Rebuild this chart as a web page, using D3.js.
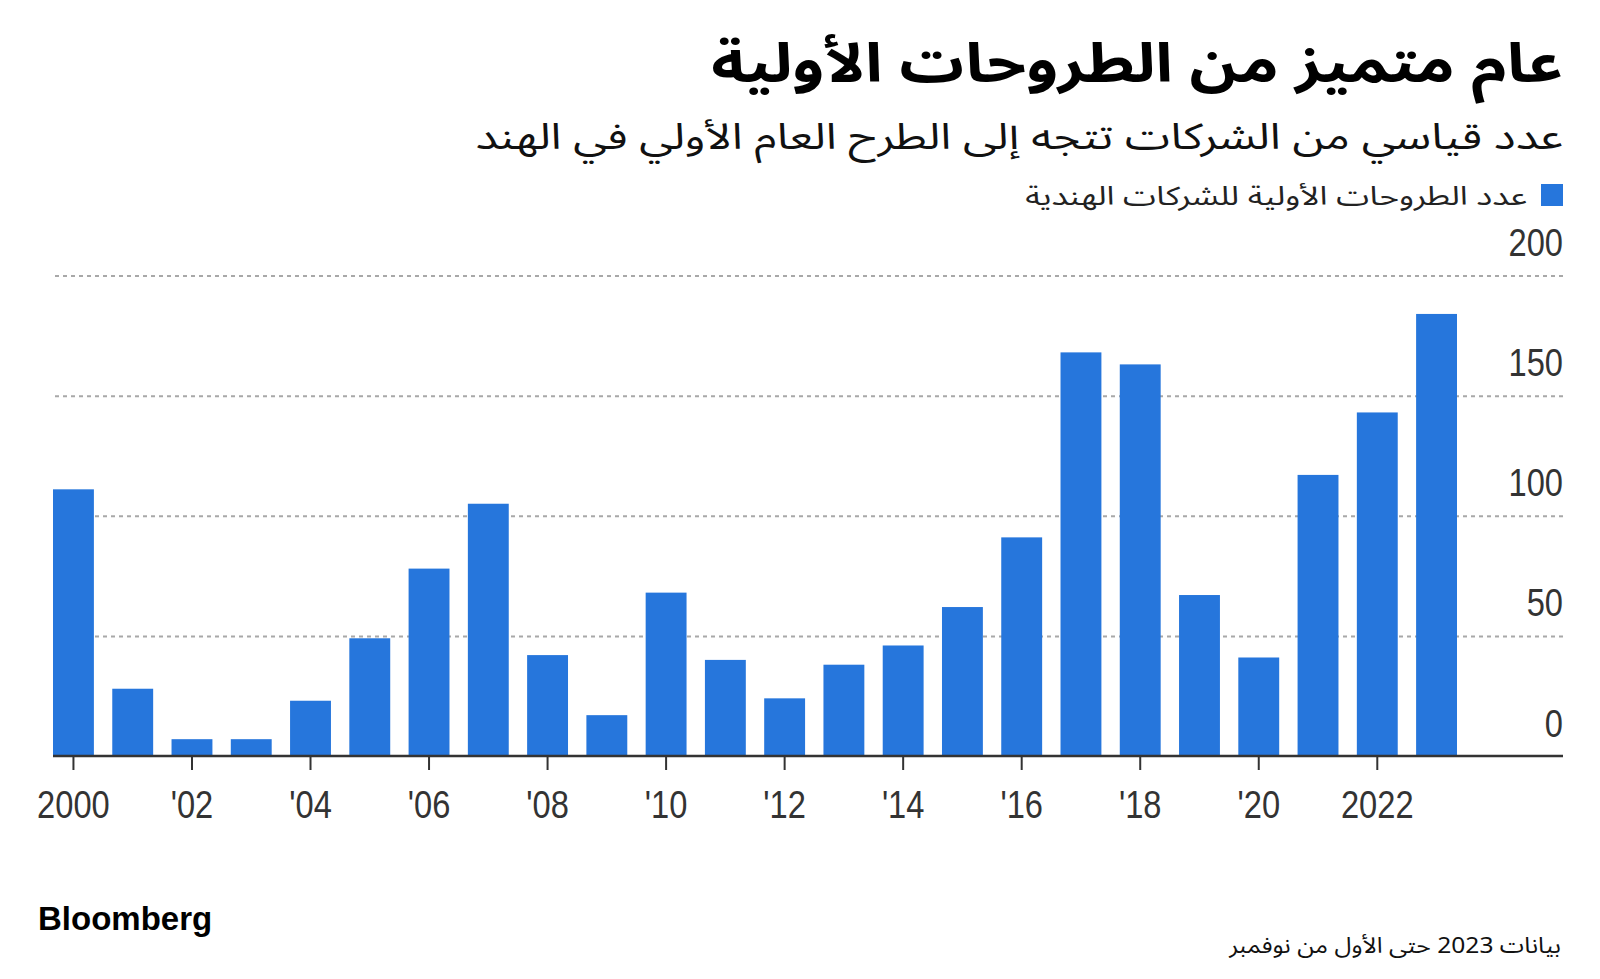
<!DOCTYPE html>
<html><head><meta charset="utf-8">
<script src="https://cdn.jsdelivr.net/npm/d3@7"></script>
<style>
html,body{margin:0;padding:0;background:#fff;}
svg{display:block;}
.ar{font-family:"Noto Sans Arabic","DejaVu Sans",sans-serif;}
</style></head>
<body>
<svg id="chart" width="1600" height="979"></svg>
<script>
const title = "عام متميز من الطروحات الأولية";
const subtitle = "عدد قياسي من الشركات تتجه إلى الطرح العام الأولي في الهند";
const legendLabel = "عدد الطروحات الأولية للشركات الهندية";
const footnote = "بيانات 2023 حتى الأول من نوفمبر";
const source = "Bloomberg";

const years = [2000,2001,2002,2003,2004,2005,2006,2007,2008,2009,2010,2011,
               2012,2013,2014,2015,2016,2017,2018,2019,2020,2021,2022,2023];
const ipoCounts = [111,28,7,7,23,49,78,105,42,17,68,40,
                   24,38,46,62,91,168,163,67,41,117,143,184];
const xTickYears = [2000,2002,2004,2006,2008,2010,2012,2014,2016,2018,2020,2022];
const xTickLabels = ["2000","'02","'04","'06","'08","'10","'12","'14","'16","'18","'20","2022"];
const yTicks = [0,50,100,150,200];

const svg = d3.select("#chart");
const barColor = "#2676dc";
const numFont = '"Liberation Sans Narrow","Arial Narrow","Liberation Sans",sans-serif';
const narrow = "scale(0.86,1)";

const x = d3.scaleBand().domain(years).range([53,1457]).paddingInner(0.31).paddingOuter(0);
const y = d3.scaleLinear().domain([0,200]).range([756,275.5]);
const plotLeft = 53, plotRight = 1563;

// stretch an RTL text horizontally about its right anchor so it spans targetW
function fitWidth(sel, ax, targetW) {
  const w = sel.node().getComputedTextLength();
  const s = targetW / w;
  sel.attr("transform", `translate(${ax},0) scale(${s},1) translate(${-ax},0)`);
}
function arText(xp, yp, size, weight, fill, str, targetW) {
  const t = svg.append("text").attr("class","ar").attr("direction","rtl").attr("text-anchor","start")
    .attr("x",xp).attr("y",yp).attr("font-size",size).attr("font-weight",weight)
    .attr("fill",fill).text(str);
  fitWidth(t, xp, targetW);
  return t;
}

// Title block
arText(plotRight, 82, 54, "bold", "#000", title, 852);
arText(plotRight, 149, 36, "normal", "#111", subtitle, 1088);

// Legend
svg.append("rect").attr("x",1541).attr("y",184).attr("width",22).attr("height",22).attr("fill",barColor);
arText(1527, 205, 26, "normal", "#222", legendLabel, 502);

// Gridlines + y labels
const yAxis = d3.axisLeft(y).tickValues(yTicks).tickSize(plotRight-plotLeft).tickFormat(d3.format("d"));
const gy = svg.append("g").attr("transform",`translate(${plotRight},0)`).call(yAxis);
gy.select(".domain").remove();
gy.selectAll(".tick line")
  .attr("stroke", d => d===0 ? "none" : "#a8a8a8")
  .attr("stroke-width",2)
  .attr("stroke-dasharray","4,4");
gy.selectAll(".tick text")
  .attr("x",0).attr("dy",null).attr("y",-20)
  .attr("text-anchor","end").attr("font-size",38).attr("fill","#333")
  .attr("transform",narrow)
  .style("font-family",numFont);

// Bars
svg.append("g").selectAll("rect").data(years).join("rect")
  .attr("x", d => x(d))
  .attr("y", (d,i) => y(ipoCounts[i]))
  .attr("width", x.bandwidth())
  .attr("height", (d,i) => y(0) - y(ipoCounts[i]))
  .attr("fill", barColor);

// X axis
const xAxis = d3.axisBottom(x).tickValues(xTickYears).tickSize(14).tickPadding(21)
  .tickFormat(d => xTickLabels[xTickYears.indexOf(d)]);
const gx = svg.append("g").attr("transform",`translate(0,${y(0)})`).call(xAxis);
gx.select(".domain").remove();
gx.selectAll(".tick line").attr("stroke","#333").attr("stroke-width",2);
gx.selectAll(".tick text").attr("font-size",38).attr("fill","#333")
  .attr("transform",narrow)
  .style("font-family",numFont);

// Baseline
svg.append("line").attr("x1",plotLeft).attr("x2",plotRight)
  .attr("y1",y(0)).attr("y2",y(0)).attr("stroke","#333").attr("stroke-width",2.5);

// Footer
svg.append("text").attr("x",38).attr("y",930).attr("font-size",33).attr("font-weight","bold")
  .attr("font-family","'Liberation Sans',Arial,sans-serif").attr("fill","#000").text(source);
arText(1561, 953, 22, "normal", "#111", footnote, 332);
</script>
</body></html>
